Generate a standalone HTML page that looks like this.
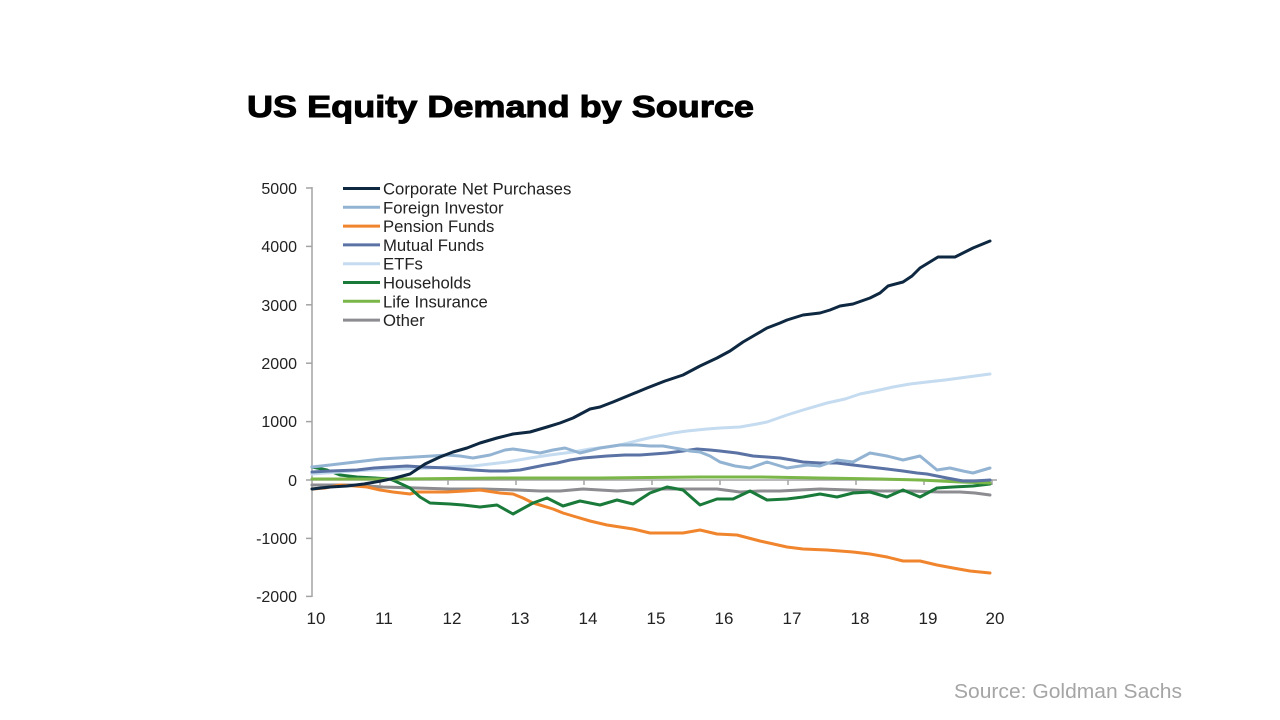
<!DOCTYPE html>
<html><head><meta charset="utf-8"><style>
html,body{margin:0;padding:0;background:#fff;}
svg{display:block;}
text{font-family:"Liberation Sans",Arial,sans-serif;}
</style></head><body>
<svg width="1280" height="720" viewBox="0 0 1280 720" xmlns="http://www.w3.org/2000/svg">
<rect width="1280" height="720" fill="#fff"/>
<text x="247" y="117" font-size="31" font-weight="bold" fill="#000" stroke="#000" stroke-width="1" textLength="507" lengthAdjust="spacingAndGlyphs">US Equity Demand by Source</text>

<!-- axes -->
<g stroke="#a3a3a3" stroke-width="1.5" fill="none">
<line x1="312" y1="187" x2="312" y2="597"/>
<line x1="306" y1="188" x2="312" y2="188"/>
<line x1="306" y1="246.4" x2="312" y2="246.4"/>
<line x1="306" y1="304.8" x2="312" y2="304.8"/>
<line x1="306" y1="363.2" x2="312" y2="363.2"/>
<line x1="306" y1="421.6" x2="312" y2="421.6"/>
<line x1="306" y1="480" x2="312" y2="480"/>
<line x1="306" y1="538.4" x2="312" y2="538.4"/>
<line x1="306" y1="596.4" x2="312" y2="596.4"/>
<line x1="312" y1="480" x2="997" y2="480"/>
<line x1="380" y1="480" x2="380" y2="485"/>
<line x1="448" y1="480" x2="448" y2="485"/>
<line x1="516" y1="480" x2="516" y2="485"/>
<line x1="584" y1="480" x2="584" y2="485"/>
<line x1="652" y1="480" x2="652" y2="485"/>
<line x1="720" y1="480" x2="720" y2="485"/>
<line x1="788" y1="480" x2="788" y2="485"/>
<line x1="856" y1="480" x2="856" y2="485"/>
<line x1="924" y1="480" x2="924" y2="485"/>
<line x1="992" y1="480" x2="992" y2="485"/>
</g>

<g font-size="16" fill="#222" text-anchor="end">
<text x="297" y="194">5000</text>
<text x="297" y="252">4000</text>
<text x="297" y="311">3000</text>
<text x="297" y="369">2000</text>
<text x="297" y="427">1000</text>
<text x="297" y="486">0</text>
<text x="297" y="544">-1000</text>
<text x="297" y="602">-2000</text>
</g>
<g font-size="17" fill="#222" text-anchor="middle">
<text x="316" y="624">10</text>
<text x="384" y="624">11</text>
<text x="452" y="624">12</text>
<text x="520" y="624">13</text>
<text x="588" y="624">14</text>
<text x="656" y="624">15</text>
<text x="724" y="624">16</text>
<text x="792" y="624">17</text>
<text x="860" y="624">18</text>
<text x="928" y="624">19</text>
<text x="995" y="624">20</text>
</g>

<!-- series -->
<g fill="none" stroke-width="3" stroke-linejoin="round" stroke-linecap="round">
<polyline stroke="#8c8c91" points="312,485 350,485 383,487 417,488 450,489 483,489 517,490 540,491 560,491 583,489 617,491 650,489 683,489 717,489 740,492 760,491 780,491 800,490 820,489 850,490 880,491 910,491 940,492 960,492 975,493 990,495"/>
<polyline stroke="#f0852d" points="312,489 325,488 340,485 355,486 367,487 380,490 393,492 410,494 417,492 430,492 447,492 465,491 480,490 500,493 513,494 523,498 533,503 540,505 553,509 563,513 573,516 590,521 607,525 620,527 633,529 650,533 667,533 683,533 700,530 717,534 737,535 760,541 787,547 803,549 827,550 853,552 870,554 887,557 903,561 920,561 937,565 953,568 970,571 990,573"/>
<polyline stroke="#1a7a3a" points="312,467 327,470 340,475 357,477 375,478 390,479 397,482 410,488 420,497 430,503 450,504 463,505 480,507 497,505 513,514 533,503 547,498 563,506 580,501 600,505 617,500 633,504 650,493 667,487 683,490 700,505 717,499 733,499 750,491 767,500 787,499 803,497 820,494 837,497 853,493 870,492 887,497 903,490 920,497 937,488 953,487 973,486 990,484"/>
<polyline stroke="#7ab648" points="312,479 400,479 500,478 600,478 700,477 760,477 820,478 880,479 920,480 960,482 990,483"/>
<polyline stroke="#c5dbf0" points="312,474 340,472 370,470 400,469 430,468 447,467 473,466 490,464 507,462 530,458 550,455 573,452 590,449 607,447 620,445 640,440 653,437 673,433 687,431 707,429 720,428 740,427 757,424 767,422 787,415 803,410 827,403 845,399 860,394 875,391 893,387 910,384 927,382 945,380 960,378 975,376 990,374"/>
<polyline stroke="#5b73a4" points="312,472 330,471 357,470 374,468 390,467 407,466 423,467 447,468 473,470 490,471 507,471 520,470 530,468 545,465 557,463 570,460 583,458 595,457 607,456 625,455 640,455 667,453 683,451 697,449 710,450 720,451 737,453 753,456 767,457 780,458 792,460 803,462 820,463 837,463 853,465 870,467 887,469 903,471 917,473 927,474 937,476 947,478 963,481 975,481 990,480"/>
<polyline stroke="#93b3d3" points="312,467 330,465 347,463 364,461 381,459 398,458 415,457 432,456 447,455 460,456 473,458 490,455 505,450 513,449 527,451 540,453 553,450 565,448 580,453 600,448 620,445 637,445 650,446 663,446 680,449 690,451 700,452 710,456 720,462 735,466 750,468 767,462 787,468 807,465 820,466 837,460 853,462 870,453 887,456 903,460 920,456 937,470 950,468 963,471 973,473 990,468"/>
<polyline stroke="#0e2841" points="312,489 330,487 347,486 364,484 381,481 395,478 410,474 425,464 440,457 453,452 467,448 480,443 497,438 513,434 530,432 547,427 560,423 573,418 590,409 600,407 613,402 630,395 647,388 665,381 683,375 700,366 717,358 730,351 743,342 755,335 767,328 780,323 787,320 803,315 820,313 830,310 840,306 853,304 870,298 880,293 888,286 903,282 912,276 920,268 938,257 955,257 973,248 990,241"/>
</g>

<!-- legend -->
<g stroke-width="3" fill="none">
<line x1="343" y1="188.5" x2="380" y2="188.5" stroke="#0e2841"/>
<line x1="343" y1="207.3" x2="380" y2="207.3" stroke="#93b3d3"/>
<line x1="343" y1="226.1" x2="380" y2="226.1" stroke="#f0852d"/>
<line x1="343" y1="244.9" x2="380" y2="244.9" stroke="#5b73a4"/>
<line x1="343" y1="263.7" x2="380" y2="263.7" stroke="#c5dbf0"/>
<line x1="343" y1="282.5" x2="380" y2="282.5" stroke="#1a7a3a"/>
<line x1="343" y1="301.3" x2="380" y2="301.3" stroke="#7ab648"/>
<line x1="343" y1="320.1" x2="380" y2="320.1" stroke="#8c8c91"/>
</g>
<g font-size="16.7" fill="#222">
<text x="383" y="194.5">Corporate Net Purchases</text>
<text x="383" y="213.3">Foreign Investor</text>
<text x="383" y="232.1">Pension Funds</text>
<text x="383" y="250.9">Mutual Funds</text>
<text x="383" y="269.7">ETFs</text>
<text x="383" y="288.5">Households</text>
<text x="383" y="307.3">Life Insurance</text>
<text x="383" y="326.1">Other</text>
</g>

<text x="954" y="698" font-size="20" fill="#a5a5a5" textLength="228" lengthAdjust="spacingAndGlyphs">Source: Goldman Sachs</text>
</svg>
</body></html>
